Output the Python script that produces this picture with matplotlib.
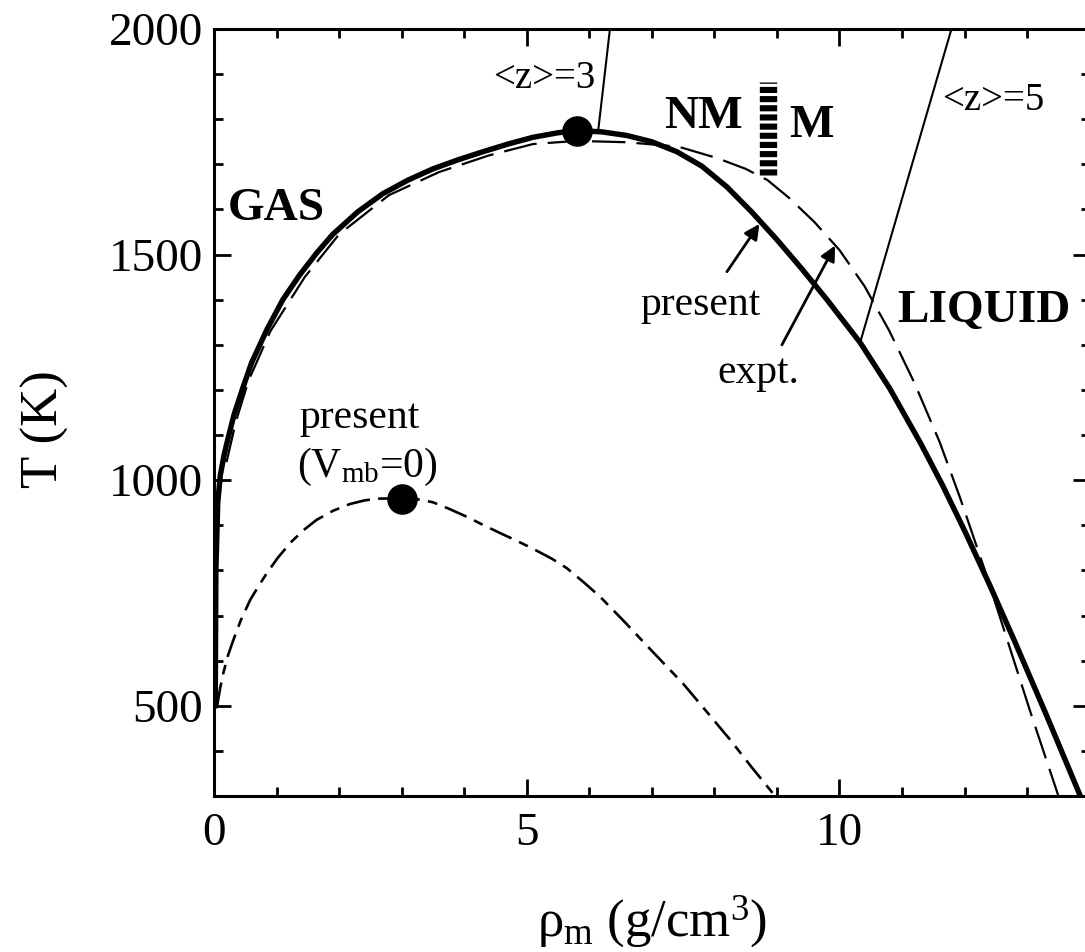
import matplotlib
matplotlib.use("Agg")
import matplotlib.pyplot as plt
from matplotlib.ticker import MultipleLocator

plt.rcParams['font.family'] = ['Liberation Serif', 'DejaVu Serif']
plt.rcParams['mathtext.fontset'] = 'custom'
plt.rcParams['mathtext.rm'] = 'Liberation Serif'
plt.rcParams['mathtext.it'] = 'Liberation Serif:italic'
plt.rcParams['mathtext.bf'] = 'Liberation Serif:bold'
plt.rcParams['lines.scale_dashes'] = False

# Liquid-gas coexistence curve, present calculation
present_rho = [0.02, 0.03, 0.06, 0.10, 0.16, 0.22, 0.32, 0.45, 0.60, 0.85,
               1.10, 1.37, 1.65, 1.90, 2.30, 2.70, 3.10, 3.50, 3.90, 4.30,
               4.70, 5.10, 5.50, 5.80, 6.20, 6.60, 7.00, 7.40, 7.80, 8.20,
               8.60, 9.00, 9.40, 9.80, 10.33, 10.80, 11.30, 11.65, 12.00,
               12.40, 12.80, 13.30, 13.85]
present_T = [500, 800, 950, 1010, 1055, 1090, 1145, 1200, 1260, 1335,
             1400, 1455, 1505, 1545, 1595, 1635, 1665, 1690, 1710, 1728,
             1745, 1760, 1770, 1775, 1772, 1764, 1750, 1728, 1696, 1650,
             1594, 1533, 1468, 1400, 1305, 1204, 1081, 988, 888,
             768, 643, 482, 300]

# Experimental coexistence curve
expt_rho = [0.20, 0.35, 0.55, 0.90, 1.45, 2.00, 2.80, 3.60, 4.40, 5.10,
            5.80, 6.60, 7.43, 8.04, 8.50, 8.85, 9.20, 9.60, 10.00, 10.40,
            10.80, 11.20, 11.60, 11.93, 12.30, 12.65, 13.05, 13.50]
expt_T = [1040, 1130, 1220, 1330, 1450, 1545, 1632, 1683, 1720, 1745,
          1752, 1749, 1739, 1714, 1690, 1665, 1625, 1572, 1510, 1430,
          1330, 1215, 1085, 960, 810, 660, 487, 300]

# Present calculation without the many-body term (V_mb = 0)
vmb0_rho = [0.05, 0.10, 0.15, 0.22, 0.31, 0.43, 0.58, 0.72, 0.85, 1.02,
            1.22, 1.42, 1.64, 1.90, 2.17, 2.40, 2.60, 3.00, 3.30, 3.50,
            3.75, 4.04, 4.30, 4.57, 4.85, 5.10, 5.40, 5.64, 5.90, 6.17,
            6.55, 6.97, 7.50, 7.90, 8.25, 8.60, 8.97]
vmb0_T = [500, 540, 573, 610, 646, 690, 735, 767, 795, 828,
          861, 888, 912, 932, 947, 955, 959, 960, 957, 951,
          937, 919, 901, 883, 865, 848, 826, 805, 775, 742,
          688, 626, 549, 483, 425, 363, 300]

# Critical points (present, present with V_mb = 0)
crit_rho = [5.80, 3.00]
crit_T = [1775, 958]

# Iso-coordination lines <z>=3 and <z>=5
z3_rho = [6.33, 6.14]
z3_T = [2000, 1772]
z5_rho = [11.79, 10.33]
z5_T = [2000, 1305]

# Metal / non-metal boundary
nm_rho = [8.86, 8.86]
nm_T = [1677, 1882]

fig = plt.figure(figsize=(10.85, 9.52), dpi=100)
ax = fig.add_axes([214 / 1085, 156 / 952, 875.7 / 1085, 767 / 952])

ax.plot(z3_rho, z3_T, color='black', lw=1.5, zorder=2)
ax.plot(z5_rho, z5_T, color='black', lw=1.5, zorder=2)
ax.plot(nm_rho, nm_T, color='black', lw=12.5, solid_capstyle='butt',
        dash_capstyle='butt', linestyle=(0, (4.4, 2.2)), zorder=2)
ax.plot(vmb0_rho, vmb0_T, color='black', lw=1.9,
        linestyle=(0, (17, 6, 7, 6)), zorder=3)
ax.plot(expt_rho, expt_T, color='black', lw=1.6,
        linestyle=(0, (24, 8)), zorder=3)
ax.plot(present_rho, present_T, color='black', lw=3.9,
        solid_joinstyle='round', zorder=4)
ax.plot(crit_rho, crit_T, 'o', color='black', markersize=21, zorder=5)

ax.set_xlim(0, 14)
ax.set_ylim(300, 2000)
ax.xaxis.set_major_locator(MultipleLocator(5))
ax.xaxis.set_minor_locator(MultipleLocator(1))
ax.yaxis.set_major_locator(MultipleLocator(500))
ax.yaxis.set_minor_locator(MultipleLocator(100))
ax.set_yticks([500, 1000, 1500, 2000])
ax.tick_params(which='both', direction='in', top=True, right=True, width=2.0,
               labelsize=34)
ax.tick_params(which='major', length=12)
ax.tick_params(which='minor', length=6.5)
ax.tick_params(axis='x', which='major', pad=12)
ax.tick_params(axis='y', which='major', pad=8)
for sp in ax.spines.values():
    sp.set_linewidth(2.2)

ax.set_xlabel('ρ$_{\\rm m}$ (g/cm$^{3}$)', fontsize=38)
ax.set_ylabel('T (K)', fontsize=38)
ax.xaxis.set_label_coords(0.5, -0.127)
ax.yaxis.set_label_coords(-0.166, 0.478)

bold = dict(fontsize=34, fontweight='bold', va='baseline')
ax.text(0.22, 1577, 'GAS', ha='left', **bold)
ax.text(10.92, 1351, 'LIQUID', ha='left', **bold)
ax.text(8.46, 1781, 'NM', ha='right', **bold)
ax.text(9.19, 1761, 'M', ha='left', **bold)

ax.text(6.10, 1869, '<z>=3', ha='right', va='baseline', fontsize=28)
ax.text(11.64, 1820, '<z>=5', ha='left', va='baseline', fontsize=28)

ax.text(7.77, 1366, 'present', ha='center', va='baseline', fontsize=30)
ax.text(8.70, 1216, 'expt.', ha='center', va='baseline', fontsize=30)
ax.text(2.33, 1116, 'present', ha='center', va='baseline', fontsize=30)
ax.text(1.33, 1007, r'(V$_{\rm mb}$=0)', ha='left', va='baseline', fontsize=30)

arrow = dict(arrowstyle='-|>,head_length=0.9,head_width=0.45', color='black',
             lw=2.0, shrinkA=0, shrinkB=0)
ax.annotate('', xy=(8.72, 1568), xytext=(8.20, 1462), arrowprops=arrow)
ax.annotate('', xy=(9.93, 1520), xytext=(9.08, 1300), arrowprops=arrow)

fig.savefig('out.png', dpi=100)
